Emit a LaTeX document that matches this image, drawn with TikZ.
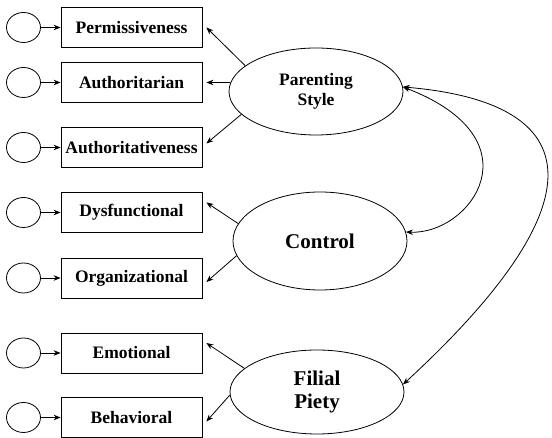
\documentclass[tikz,border=0pt]{standalone}
\usepackage{fontspec}
\setmainfont{Liberation Serif}
\usepackage{tikz}
\usetikzlibrary{arrows.meta,shapes.geometric}

\begin{document}
\begin{tikzpicture}[x=1pt, y=1pt, >={Stealth[length=7pt,width=5.5pt]}, line width=0.8pt,
      ind/.style={draw, minimum width=141pt, minimum height=40pt, inner sep=0pt,
        font=\fontsize{17.5}{20}\selectfont\bfseries},
      err/.style={draw, ellipse, minimum width=34pt, minimum height=30pt, inner sep=0pt},
      lat/.style={draw, ellipse, minimum width=174pt, inner sep=0pt, align=center,
        font=\fontsize{21}{23}\selectfont\bfseries}]
      \useasboundingbox (0,0) rectangle (552,438);
      \node[ind] (perm)  at (131.5,410.5) {Permissiveness};
      \node[ind] (auth)  at (131.5,355.5) {Authoritarian};
      \node[ind] (authv) at (131.5,290.5) {Authoritativeness};
      \node[ind] (dys)   at (131.5,225.5) {Dysfunctional};
      \node[ind] (org)   at (131.5,160)   {Organizational};
      \node[ind] (emo)   at (131.5,85)    {Emotional};
      \node[ind] (beh)   at (131.5,20.5)  {Behavioral};
      \foreach \v in {perm,auth,authv,dys,org,emo,beh}{
        \node[err] (e\v) at (23.5,0 |- \v) {};
        \draw[->] (e\v) -- (\v);
      }
      \node[lat, minimum height=87pt, font=\fontsize{17.5}{20}\selectfont\bfseries]
            (ps)  at (316,346.5) {Parenting\\Style};
      \node[lat, minimum height=98pt] (ctl) at (320,197) {Control};
      \node[lat, minimum height=84pt] (fp)  at (317,46)  {Filial\\Piety};
      \draw[->] (ps.160) -- ([shift={(4pt,0pt)}]perm.east);
      \draw[->] (ps.174) -- ([shift={(4pt,0pt)}]auth.east);
      \draw[->] (ps.197) -- ([shift={(4pt,4pt)}]authv.east);
      \draw[->] (ctl.168) -- ([shift={(4pt,10pt)}]dys.east);
      \draw[->] (ctl.190) -- ([shift={(4pt,-4pt)}]org.east);
      \draw[->] (fp.162) -- ([shift={(4pt,10pt)}]emo.east);
      \draw[->] (fp.182) -- ([shift={(4pt,-4pt)}]beh.east);
      \draw[<->] (ps.3) .. controls (540,298) and (470,203) .. (ctl.6);
      \draw[<->] (ps.3) .. controls (590,335) and (600,235) .. (fp.5);
    \end{tikzpicture}
\end{document}
